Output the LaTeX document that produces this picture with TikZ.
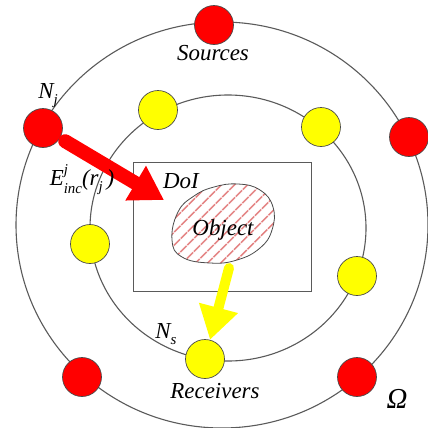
\documentclass[tikz,border=0pt]{standalone}
\usepackage{fontspec}
\setmainfont{Liberation Serif}
\usepackage{tikz}
\usetikzlibrary{arrows.meta,patterns.meta}
\definecolor{cSrc}{HTML}{FF0000}
\definecolor{cRcv}{HTML}{FFFF00}
\definecolor{cRing}{HTML}{5A5A5A}
\definecolor{cEdge}{HTML}{4A4A4A}
\definecolor{cHatch}{HTML}{E07070}
\tikzset{
  ring/.style={draw=cRing, line width=1.1pt},
  srcnode/.style={circle, draw=cEdge, fill=cSrc, line width=0.7pt,
                  minimum size=39bp, inner sep=0pt},
  rcvnode/.style={circle, draw=cEdge, fill=cRcv, line width=0.7pt,
                  minimum size=39bp, inner sep=0pt},
  lbl/.style={font=\fontsize{23}{27}\selectfont\itshape, inner sep=0pt},
  parr/.style={line cap=round, -{Triangle[length=33bp,width=38bp]}},
}
\newcommand{\scr}[2]{\raisebox{#1}{\fontsize{15}{15}\selectfont #2}}

\begin{document}
\begin{tikzpicture}[x=1bp, y=-1bp]
\fill[white] (0,0) rectangle (428,428);
\useasboundingbox (0,0) rectangle (428,428);
% ---- rings and domain
\draw[ring] (222,225) ellipse [x radius=206, y radius=203];
\draw[ring] (228,228) ellipse [x radius=138, y radius=133];
\draw[draw=cRing, line width=1pt] (133,162) rectangle (311,291);
% ---- object
\draw[draw=cEdge, line width=0.8pt, pattern color=cHatch,
      pattern={Lines[angle=45, distance=9.5bp, line width=1.6bp]}]
  plot[smooth cycle, tension=0.75] coordinates {
    (178,212) (194,196) (214,187) (238,184) (260,190) (273,207)
    (272,230) (260,248) (237,260) (210,263) (182,257) (172,240)};
\coordinate (objb) at (229,268);
\coordinate (hit) at (164,200);
% ---- sources (outer ring)
\foreach \n/\p in {s1/{214,25}, s2/{43,128}, s3/{409,137}, s4/{82,377}, s5/{357,377}}
  \node[srcnode] (\n) at (\p) {};
% ---- receivers (inner ring)
\foreach \n/\p in {r1/{158,110}, r2/{321,127}, r3/{90,244}, r4/{357,276}, r5/{205,359}}
  \node[rcvnode] (\n) at (\p) {};
% ---- incident and scattered field
\draw[parr, draw=cSrc, fill=cSrc, line width=14bp, shorten <=6bp] (s2) -- (hit);
\draw[parr, draw=cRcv, fill=cRcv, line width=10bp] (objb) -- (r5);
% ---- labels
\node[lbl] (lsrc) at (213,53) {Sources};
\node[lbl] (lnj) at (48,96) {N\scr{-6bp}{j}};
\node[lbl] (linc) at (82,180)
  {E\rlap{\scr{11bp}{j}}\scr{-8bp}{inc}(r\scr{-6bp}{j}\,)};
\node[lbl] (ldoi) at (181,181) {DoI};
\node[lbl] (lobj) at (223,230) {Object};
\node[lbl] (lns) at (166,334) {N\scr{-6bp}{s}};
\node[lbl] (lrcv) at (215,391) {Receivers};
\node[lbl, font=\fontsize{29}{31}\selectfont\itshape] (lom) at (397,399) {Ω};
\end{tikzpicture}
\end{document}
